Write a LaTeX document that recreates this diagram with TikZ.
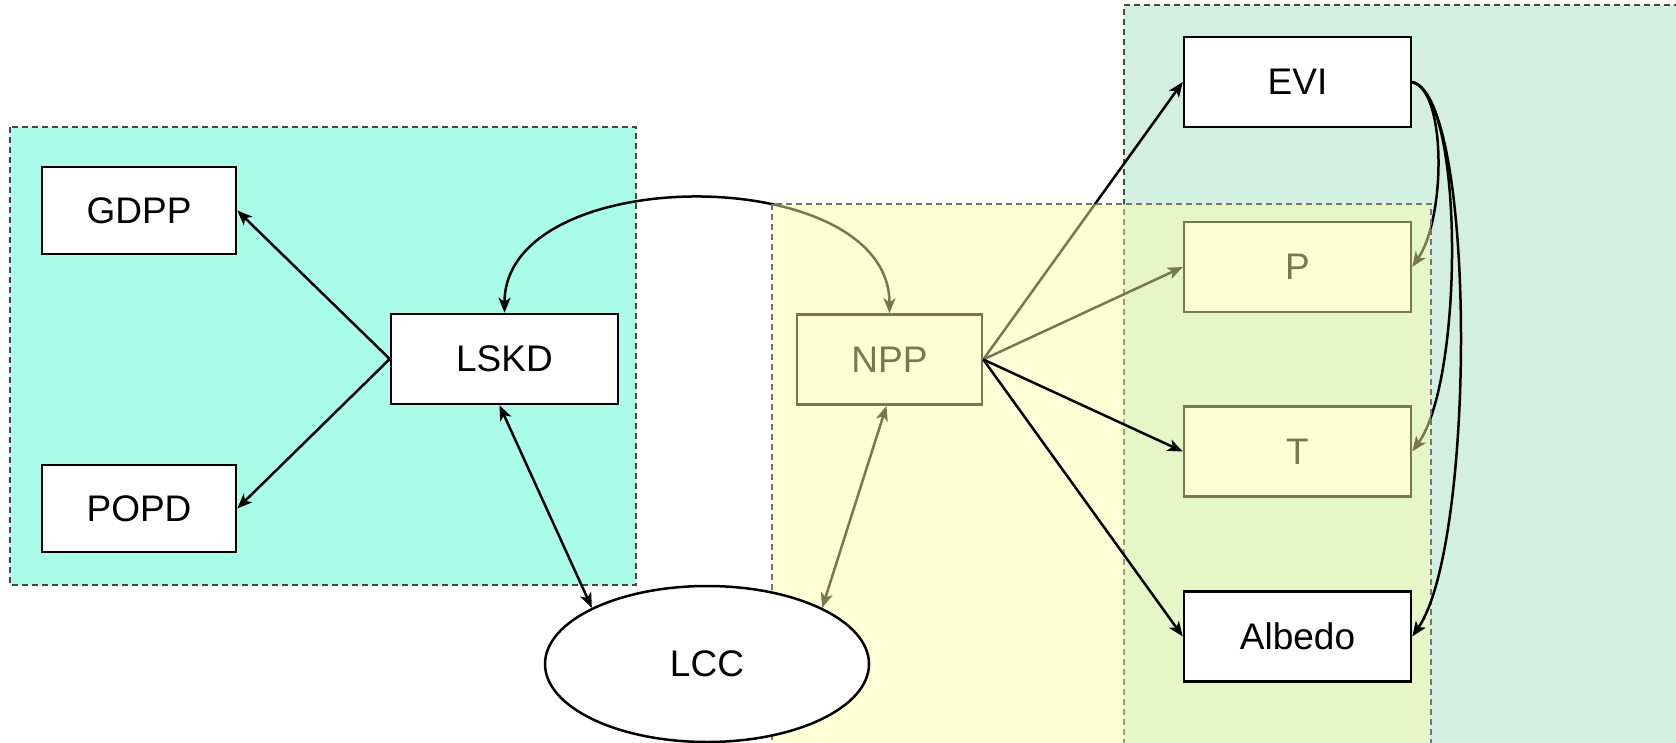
\documentclass[tikz,border=0pt]{standalone}
\usepackage{fontspec}
\setmainfont{Liberation Sans}
\usetikzlibrary{arrows.meta,shapes.geometric,calc}
\pgfdeclarelayer{panels}
\pgfdeclarelayer{wash}
\pgfdeclarelayer{front}
\pgfsetlayers{panels,main,wash,front}
\definecolor{tealzone}{RGB}{170,253,232}
\definecolor{mintzone}{RGB}{211,239,226}
\definecolor{lemonwash}{RGB}{255,255,168}
\definecolor{zoneedge}{RGB}{70,70,70}
\tikzset{
  box/.style={draw=black, line width=2.5pt, fill=white, minimum width=227pt,
    minimum height=90pt, inner sep=0pt, font=\fontsize{37}{44}\selectfont},
  oval/.style={ellipse, draw=black, line width=2.5pt, fill=white, minimum width=324pt,
    minimum height=156pt, inner sep=0pt, font=\fontsize{37}{44}\selectfont},
  zone/.style={draw=zoneedge, line width=1.3pt, dash pattern=on 6pt off 4pt},
  link/.style={line width=2.5pt, -{Stealth[length=15pt,width=12pt,inset=4pt]}},
  bilink/.style={line width=2.5pt, {Stealth[length=15pt,width=12pt,inset=4pt]}-{Stealth[length=15pt,width=12pt,inset=4pt]}},
}
\begin{document}
\begin{tikzpicture}[x=1pt,y=-1pt]
\useasboundingbox (0,0) rectangle (1676,743);

% group panels
\begin{pgfonlayer}{panels}
  \fill[mintzone] (1124,5) rectangle (1700,770);
  \draw[zone] (1700,5) -- (1124,5) -- (1124,770);
  \fill[tealzone] (10,127) rectangle (636,585);
  \draw[zone] (10,127) rectangle (636,585);
\end{pgfonlayer}

% boxes of the left group and the middle / right columns
\node[box, minimum width=194pt, minimum height=87pt] (GDPP) at (139,210.5) {GDPP};
\node[box, minimum width=194pt, minimum height=87pt] (POPD) at (139,508.5) {POPD};
\node[box] (LSKD) at (504.5,359) {LSKD};
\node[box, minimum width=185pt] (NPP) at (889.5,359.5) {NPP};
\node[box] (EVI) at (1297.5,82) {EVI};
\node[box] (P) at (1297.5,267) {P};
\node[box] (T) at (1297.5,451.5) {T};

% items drawn above the yellow wash
\begin{pgfonlayer}{front}
  \node[oval] (LCC) at (707,664) {LCC};
  \node[box] (Albedo) at (1297.5,636.5) {Albedo};
\end{pgfonlayer}

% connectors under the wash
\draw[link] (LSKD.west) -- (GDPP.east);
\draw[link] (LSKD.west) -- (POPD.east);
\draw[bilink] (LSKD.north) .. controls +(0,-152) and +(0,-152) .. (NPP.north);
\draw[bilink] ($(LSKD.south)+(-5,0)$) -- (LCC.154);
\draw[bilink] ($(NPP.south)+(-3,0)$) -- (LCC.26);
\draw[link] (NPP.east) -- (EVI.west);
\draw[link] (NPP.east) -- (P.west);
\draw[link] (EVI.east) .. controls +(34,8) and +(34,-50) .. (P.east);
\draw[link] (EVI.east) .. controls +(52,12) and +(52,-72) .. (T.east);

% yellow group panel, translucent
\begin{pgfonlayer}{wash}
  \fill[lemonwash, fill opacity=0.47] (772,204) rectangle (1431,770);
  \draw[zone, draw=zoneedge!75] (772,770) -- (772,204) -- (1431,204) -- (1431,770);
\end{pgfonlayer}

% connectors above the wash
\begin{pgfonlayer}{front}
  \draw[link] (NPP.east) -- (T.west);
  \draw[link] (NPP.east) -- (Albedo.west);
  \draw[link] (EVI.east) .. controls +(64,16) and +(64,-92) .. (Albedo.east);
\end{pgfonlayer}
\end{tikzpicture}
\end{document}
